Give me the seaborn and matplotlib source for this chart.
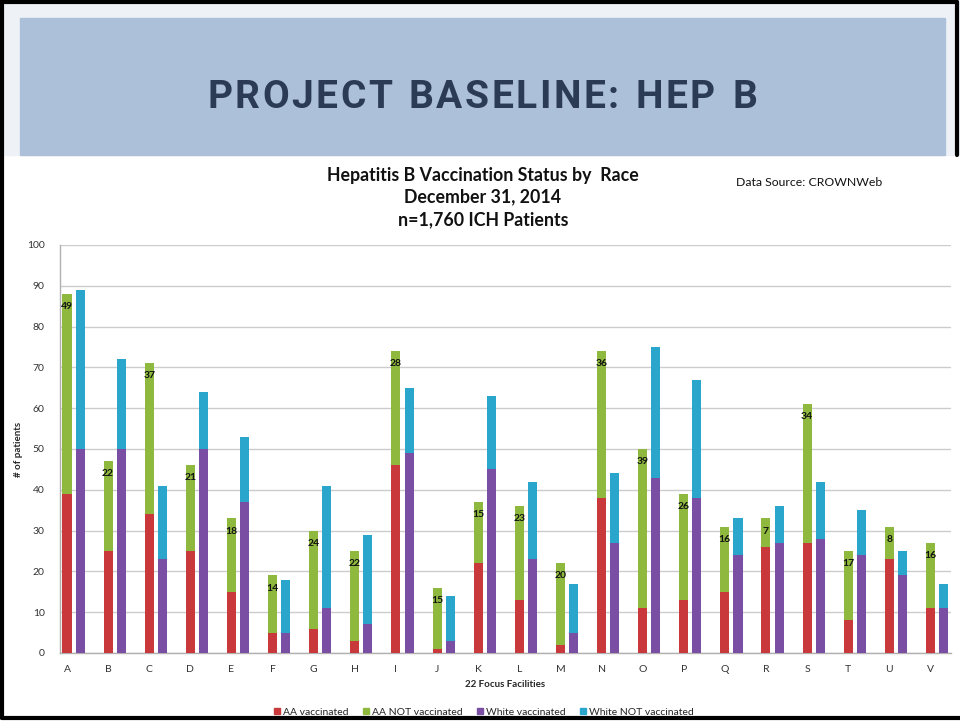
import numpy as np
import pandas as pd
import matplotlib.pyplot as plt
import seaborn as sns
from matplotlib.patches import Rectangle
from matplotlib.lines import Line2D

# Data
facilities = list("ABCDEFGHIJKLMNOPQRSTUV")
aa_vaccinated = [39, 25, 34, 25, 15, 5, 6, 3, 46, 1, 22, 13, 2, 38, 11, 13, 15, 26, 27, 8, 23, 11]
aa_not_vaccinated = [49, 22, 37, 21, 18, 14, 24, 22, 28, 15, 15, 23, 20, 36, 39, 26, 16, 7, 34, 17, 8, 16]
white_vaccinated = [50, 50, 23, 50, 37, 5, 11, 7, 49, 3, 45, 23, 5, 27, 43, 38, 24, 27, 28, 24, 19, 11]
white_not_vaccinated = [39, 22, 18, 14, 16, 13, 30, 22, 16, 11, 18, 19, 12, 17, 32, 29, 9, 9, 14, 11, 6, 6]

RED = "#c9383a"
GREEN = "#8fb83f"
PURPLE = "#7a4fa3"
BLUE = "#2aa5cc"

df = pd.DataFrame({
    "facility": facilities,
    "aa_vacc": aa_vaccinated,
    "aa_not": aa_not_vaccinated,
    "white_vacc": white_vaccinated,
    "white_not": white_not_vaccinated,
})
df["aa_pos"] = np.arange(len(df), dtype=float)
df["white_pos"] = df["aa_pos"] + 0.32
df["aa_total"] = df["aa_vacc"] + df["aa_not"]
df["white_total"] = df["white_vacc"] + df["white_not"]

sns.set_theme(style="white")
plt.rcParams["font.family"] = ["Lato", "DejaVu Sans"]

fig = plt.figure(figsize=(9.6, 7.21), dpi=100)

# slide background
fig.patches.append(Rectangle((0, 1 - 155 / 721), 1, 155 / 721, transform=fig.transFigure,
                             color="#eef2f7", zorder=0))
fig.patches.append(Rectangle((20 / 960, 1 - 155 / 721), 925 / 960, 137 / 721,
                             transform=fig.transFigure, color="#adc0d9", zorder=1))

# slide title with letter spacing, drawn char by char
title = "PROJECT BASELINE: HEP B"
renderer = fig.canvas.get_renderer()
tracking = 2.5  # px between letters
tkw = dict(fontsize=28, fontweight="bold", color="#2b3b56", family=["Roboto", "DejaVu Sans"],
           va="center", ha="left")
widths = []
for ch in title:
    t = fig.text(0, 0, ch if ch != " " else "n", **tkw)
    bb = t.get_window_extent(renderer)
    widths.append(bb.width * (0.55 if ch == " " else 1))
    t.remove()
total = sum(widths) + tracking * (len(title) - 1)
x0 = 482 - total / 2
for ch, wd in zip(title, widths):
    if ch != " ":
        fig.text(x0 / 960, 1 - 97 / 721, ch, **tkw)
    x0 += wd + tracking

# frame
for xs, ys in [([2 / 960, 2 / 960], [0.004, 0.997]),
               ([0, 957 / 960], [0.997, 0.997]),
               ([957 / 960, 957 / 960], [0.997, 1 - 155 / 721]),
               ([2 / 960, 1], [1 - 718 / 721, 1 - 718 / 721])]:
    fig.add_artist(Line2D(xs, ys, color="black", lw=3, transform=fig.transFigure))

ax = fig.add_axes([60 / 960, 1 - 653 / 721, 891 / 960, 408 / 721])

w = 0.22
bar_kw = dict(native_scale=True, width=w, saturation=1, ax=ax, linewidth=0)
sns.barplot(data=df, x="aa_pos", y="aa_total", color=GREEN, zorder=3, **bar_kw)
sns.barplot(data=df, x="aa_pos", y="aa_vacc", color=RED, zorder=4, **bar_kw)
sns.barplot(data=df, x="white_pos", y="white_total", color=BLUE, zorder=3, **bar_kw)
sns.barplot(data=df, x="white_pos", y="white_vacc", color=PURPLE, zorder=4, **bar_kw)

for x, tot, lab in zip(df["aa_pos"], df["aa_total"], df["aa_not"]):
    ax.text(x, tot - 2.0, str(lab), ha="center", va="top", fontsize=7.5,
            fontweight="bold", color="#111111", zorder=6)

ax.set_xlim(-0.17, 21.5)
ax.set_ylim(0, 100)
ax.set_yticks(range(0, 101, 10))
ax.set_xticks(df["aa_pos"])
ax.set_xticklabels(facilities)
ax.tick_params(axis="both", labelsize=7.5, colors="#333333", length=0)
ax.tick_params(axis="y", pad=11)
ax.tick_params(axis="x", pad=9)
ax.yaxis.grid(True, color="#cccccc", lw=1)
ax.set_axisbelow(True)
for s in ["top", "right"]:
    ax.spines[s].set_visible(False)
for s in ["left", "bottom"]:
    ax.spines[s].set_color("#b0b0b0")
    ax.spines[s].set_linewidth(1)
ax.set_ylabel("# of patients", fontsize=7, fontweight="bold", labelpad=3)
ax.set_xlabel("22 Focus Facilities", fontsize=7, fontweight="bold", labelpad=4)

for yy, txt in [(175, "Hepatitis B Vaccination Status by  Race"),
                (197, "December 31, 2014"),
                (220, "n=1,760 ICH Patients")]:
    fig.text(0.503, 1 - yy / 721, txt, ha="center", va="center",
             fontsize=12.8, fontweight="bold", color="#111111")
fig.text(0.843, 1 - 183 / 721, "Data Source: CROWNWeb", ha="center", va="center",
         fontsize=8.8, color="#111111")

handles = [Line2D([], [], marker="s", ls="", color=c, markersize=5)
           for c in [RED, GREEN, PURPLE, BLUE]]
fig.legend(handles, ["AA vaccinated", "AA NOT vaccinated", "White vaccinated",
                     "White NOT vaccinated"], loc="center", bbox_to_anchor=(0.503, 1 - 712 / 721),
           ncol=4, frameon=False, fontsize=7.5, handletextpad=0.05, columnspacing=1.2,
           handlelength=1.0)

fig.savefig("out.png", dpi=100)
